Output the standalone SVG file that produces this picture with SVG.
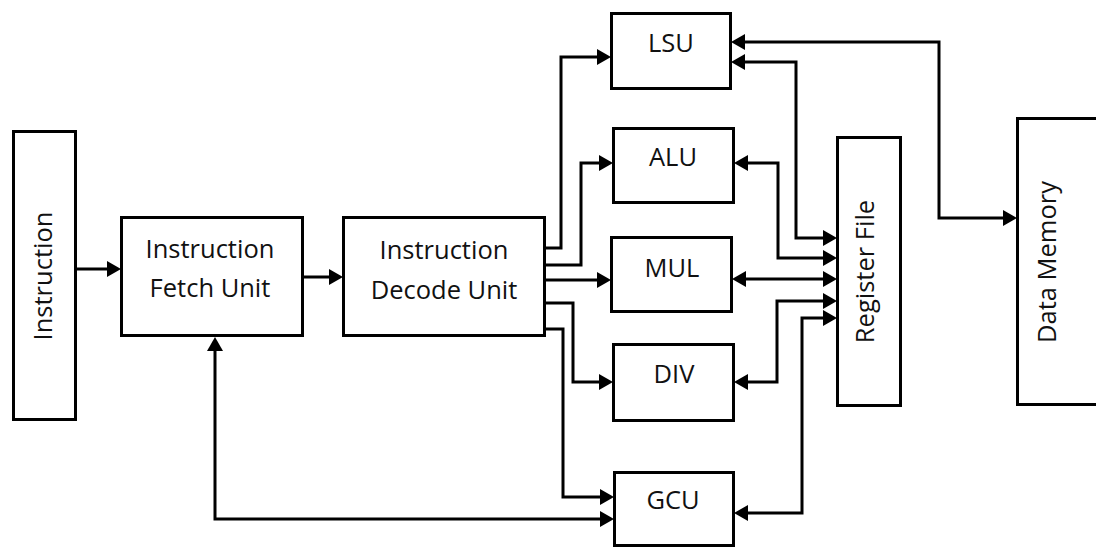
<svg xmlns="http://www.w3.org/2000/svg" width="1096" height="548" viewBox="0 0 1096 548">
  <style>
    .box { fill: #ffffff; stroke: #000000; stroke-width: 3; }
    .lbl { font-family: "Open Sans", "Liberation Sans", sans-serif; font-size: 25.5px; fill: #111111; text-anchor: middle; }
    .wire { fill: none; stroke: #000000; stroke-width: 3; stroke-linejoin: miter; }
    .one { marker-end: url(#ah); }
    .two { marker-start: url(#ah); marker-end: url(#ah); }
  </style>
  <defs>
    <marker id="ah" markerUnits="userSpaceOnUse" markerWidth="14" markerHeight="16" viewBox="0 0 14 16" refX="10" refY="8" orient="auto-start-reverse">
      <path d="M0,0 L14,8 L0,16 z" fill="#000000"/>
    </marker>
  </defs>
  <rect width="1096" height="548" fill="#ffffff"/>

  <!-- pipeline front end -->
  <g id="instruction">
    <rect class="box" x="13.5" y="131.5" width="62" height="288"/>
    <text class="lbl" transform="translate(52,276) rotate(-90)">Instruction</text>
  </g>
  <g id="fetch-unit">
    <rect class="box" x="121.5" y="217.5" width="181" height="118"/>
    <text class="lbl" x="210" y="258">Instruction</text>
    <text class="lbl" x="210" y="297">Fetch Unit</text>
  </g>
  <g id="decode-unit">
    <rect class="box" x="343.5" y="217.5" width="201" height="118"/>
    <text class="lbl" x="444" y="259">Instruction</text>
    <text class="lbl" x="444" y="299">Decode Unit</text>
  </g>

  <!-- execution units -->
  <g id="lsu">
    <rect class="box" x="611.5" y="13.5" width="119" height="75"/>
    <text class="lbl" x="671" y="52">LSU</text>
  </g>
  <g id="alu">
    <rect class="box" x="613.5" y="128.5" width="120" height="74"/>
    <text class="lbl" x="673" y="166">ALU</text>
  </g>
  <g id="mul">
    <rect class="box" x="611.5" y="237.5" width="120" height="74"/>
    <text class="lbl" x="672" y="277">MUL</text>
  </g>
  <g id="div">
    <rect class="box" x="613.5" y="344.5" width="120" height="76"/>
    <text class="lbl" x="674" y="383">DIV</text>
  </g>
  <g id="gcu">
    <rect class="box" x="614.5" y="472.5" width="119" height="73"/>
    <text class="lbl" x="673" y="509">GCU</text>
  </g>

  <!-- storage -->
  <g id="register-file">
    <rect class="box" x="837.5" y="137.5" width="63" height="268"/>
    <text class="lbl" transform="translate(874,271.5) rotate(-90)">Register  File</text>
  </g>
  <g id="data-memory">
    <rect class="box" x="1017.5" y="118.5" width="90" height="286"/>
    <text class="lbl" transform="translate(1056,262) rotate(-90)">Data Memory</text>
  </g>

  <g id="connectors">
    <path class="wire one" d="M76,269 H117"/>
    <path class="wire one" d="M303,277 H339"/>
    <path class="wire one" d="M545,248 H561 V57 H607"/>
    <path class="wire one" d="M545,265 H581 V163 H609"/>
    <path class="wire one" d="M545,280 H607"/>
    <path class="wire one" d="M545,303 H573 V382 H609"/>
    <path class="wire one" d="M545,329 H563 V497 H610"/>
    <path class="wire two" d="M610,519 H215 V341"/>
    <path class="wire two" d="M735,42 H939 V218 H1013"/>
    <path class="wire two" d="M735,62 H796 V238 H833"/>
    <path class="wire two" d="M738,163 H778 V258 H833"/>
    <path class="wire two" d="M736,279 H833"/>
    <path class="wire two" d="M738,382 H777 V301 H833"/>
    <path class="wire two" d="M738,513 H802 V318 H833"/>
  </g>
</svg>
